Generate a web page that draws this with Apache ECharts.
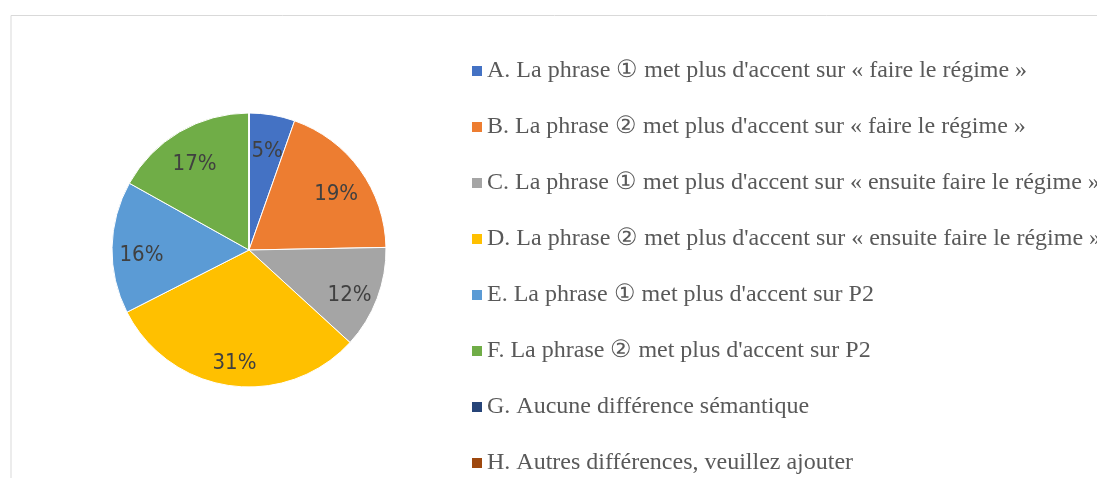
<!DOCTYPE html>
<html>
<head>
<meta charset="utf-8">
<script src="https://cdn.jsdelivr.net/npm/echarts@6/dist/echarts.min.js"></script>
<style>
html,body{margin:0;padding:0;background:#fff;}
#chart{width:1097px;height:478px;}
</style>
</head>
<body>
<div id="chart"></div>
<script>
const categories = [
  "A. La phrase ① met plus d'accent sur « faire le régime »",
  "B. La phrase ② met plus d'accent sur « faire le régime »",
  "C. La phrase ① met plus d'accent sur « ensuite faire le régime »",
  "D. La phrase ② met plus d'accent sur « ensuite faire le régime »",
  "E. La phrase ① met plus d'accent sur P2",
  "F. La phrase ② met plus d'accent sur P2",
  "G. Aucune différence sémantique",
  "H. Autres différences, veuillez ajouter"
];
const values = [5.4, 19.3, 12.1, 30.7, 15.6, 16.9, 0, 0];
const colors = ['#4472C4','#ED7D31','#A5A5A5','#FFC000','#5B9BD5','#70AD47','#264478','#9E480E'];

const data = categories.map((n, i) => ({ name: n, value: values[i] }));
const chart = echarts.init(document.getElementById('chart'));
const R = 137;
chart.setOption({
  animation: false,
  color: colors,
  graphic: [{
    type: 'rect',
    shape: { x: 11, y: 15.5, width: 1200, height: 600 },
    style: { fill: 'none', stroke: '#d9d9d9', lineWidth: 1 },
    silent: true
  }],
  legend: {
    orient: 'vertical',
    left: 472,
    top: 58,
    height: 600,
    padding: 0,
    itemWidth: 10,
    itemHeight: 10,
    itemGap: 30,
    icon: 'rect',
    itemStyle: { borderWidth: 0 },
    data: categories,
    textStyle: {
      fontFamily: 'Liberation Serif, Times New Roman, serif',
      fontSize: 24,
      color: '#595959',
      lineHeight: 26
    }
  },
  series: [{
    type: 'pie',
    center: [249, 250],
    radius: [0, R],
    startAngle: 90,
    clockwise: true,
    avoidLabelOverlap: false,
    percentPrecision: 0,
    itemStyle: { borderColor: '#fff', borderWidth: 1 },
    label: { show: false },
    labelLine: { show: false },
    emphasis: { disabled: true },
    data: data
  }, {
    type: 'pie',
    center: [249, 250],
    radius: [72, R],
    startAngle: 90,
    clockwise: true,
    silent: true,
    avoidLabelOverlap: false,
    percentPrecision: 0,
    legendHoverLink: false,
    itemStyle: { color: 'rgba(0,0,0,0)', borderWidth: 0 },
    label: {
      show: true,
      position: 'inside',
      offset: [0, 7],
      formatter: p => p.value > 0 ? p.percent + '%' : '',
      fontFamily: "'Liberation Sans Narrow','DejaVu Sans Condensed','Arial Narrow',Arial,sans-serif",
      fontSize: 22,
      color: '#404040'
    },
    labelLine: { show: false },
    emphasis: { disabled: true },
    data: data
  }]
});
</script>
</body>
</html>
